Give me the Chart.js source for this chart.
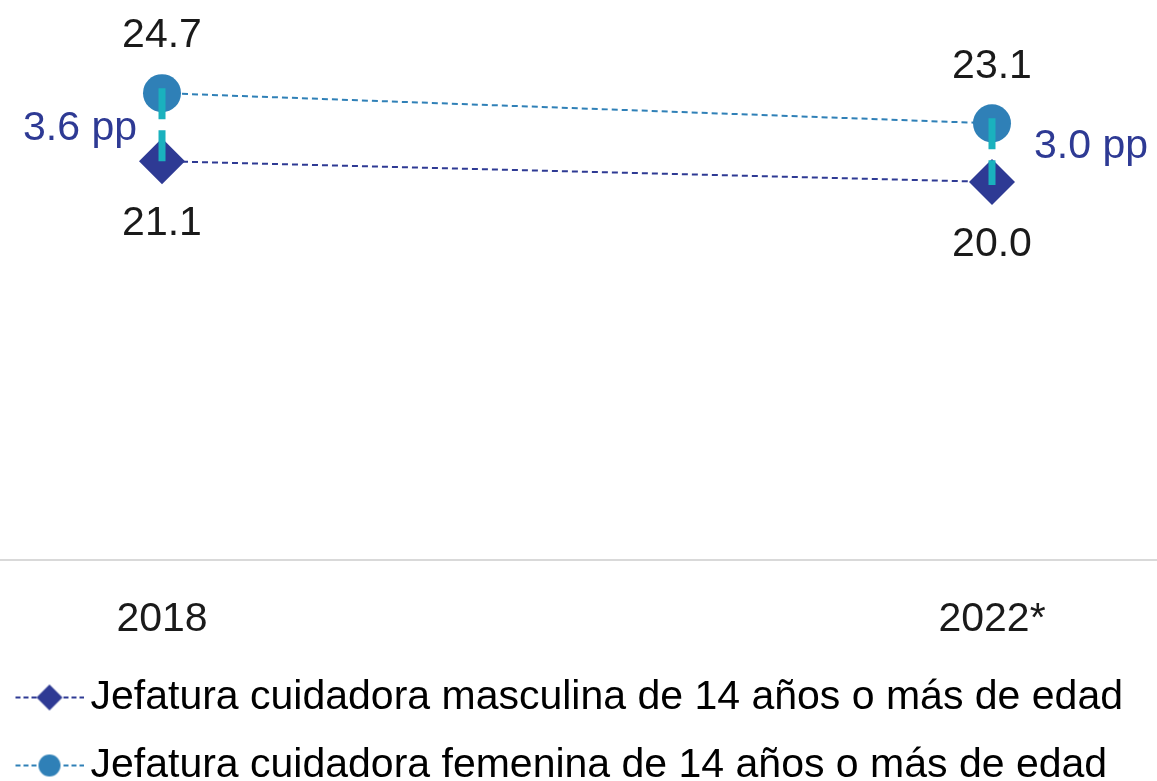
<html>
<head>
    <title>Jefatura cuidadora</title>
    <script src="https://cdn.jsdelivr.net/npm/chart.js"></script>
    <style>
        body { margin: 0; background: #fff; }
    </style>
</head>
<body>
    <div>
        <canvas id="myChart" width="1157" height="781"></canvas>
    </div>

    <script>
        // categories and values
        const categorias = ['2018', '2022*'];
        const masculina = [21.1, 20.0];
        const femenina = [24.7, 23.1];
        // published gap in percentage points (not a plain difference of the rounded values)
        const brecha = [3.6, 3.0];

        const colMasc = '#2e3a94';
        const colFem = '#2f80b7';
        const colBrecha = '#1ab1be';
        const FONT = 'Liberation Sans, Arial, sans-serif';

        // little legend marker: dashed line with the point in the middle
        function legendMarker(color, shape) {
            const c = document.createElement('canvas');
            c.width = 70;
            c.height = 30;
            const g = c.getContext('2d');
            g.strokeStyle = color;
            g.lineWidth = 2;
            g.setLineDash([5, 3]);
            g.beginPath();
            g.moveTo(2, 15);
            g.lineTo(70, 15);
            g.stroke();
            g.fillStyle = color;
            g.beginPath();
            if (shape === 'diamond') {
                g.moveTo(36, 2);
                g.lineTo(49, 15);
                g.lineTo(36, 28);
                g.lineTo(23, 15);
                g.closePath();
            } else {
                g.arc(36, 15, 11, 0, Math.PI * 2);
            }
            g.fill();
            return c;
        }
        const markers = [legendMarker(colMasc, 'diamond'), legendMarker(colFem, 'circle')];

        const valueLabels = {
            id: 'valueLabels',
            afterDatasetsDraw(chart) {
                const ctx = chart.ctx;
                ctx.save();
                ctx.font = '41px ' + FONT;
                ctx.fillStyle = '#1a1a1a';
                ctx.textAlign = 'center';
                ctx.textBaseline = 'middle';
                chart.data.datasets.forEach((ds, di) => {
                    const meta = chart.getDatasetMeta(di);
                    meta.data.forEach((pt, i) => {
                        const off = di === 1 ? -57 : 63;
                        ctx.fillText(ds.data[i].y.toFixed(1), pt.x, pt.y + off);
                    });
                });
                ctx.restore();
            }
        };

        const gapMarks = {
            id: 'gapMarks',
            afterDatasetsDraw(chart) {
                const ctx = chart.ctx;
                const x = chart.scales.x;
                const y = chart.scales.y;
                ctx.save();
                brecha.forEach((b, i) => {
                    const px = x.getPixelForValue(i);
                    const yTop = y.getPixelForValue(femenina[i]) - 5;
                    const yBot = y.getPixelForValue(masculina[i]) + 3;
                    ctx.strokeStyle = colBrecha;
                    ctx.lineWidth = 7;
                    ctx.setLineDash([31, 11]);
                    ctx.beginPath();
                    ctx.moveTo(px, yTop);
                    ctx.lineTo(px, yBot);
                    ctx.stroke();

                    ctx.font = '41px ' + FONT;
                    ctx.fillStyle = colMasc;
                    ctx.textBaseline = 'middle';
                    const mid = (yTop + yBot) / 2;
                    if (i === 0) {
                        ctx.textAlign = 'right';
                        ctx.fillText(b.toFixed(1) + ' pp', px - 25, mid + 3);
                    } else {
                        ctx.textAlign = 'left';
                        ctx.fillText(b.toFixed(1) + ' pp', px + 42, mid - 5);
                    }
                });
                ctx.restore();
            }
        };

        const data = {
            datasets: [
                {
                    label: 'Jefatura cuidadora masculina de 14 años o más de edad',
                    data: masculina.map((v, i) => ({ x: i, y: v })),
                    borderColor: colMasc,
                    backgroundColor: colMasc,
                    borderWidth: 2,
                    borderDash: [6, 4],
                    pointStyle: 'rectRot',
                    pointRadius: 23,
                    pointBorderWidth: 0,
                    clip: false
                },
                {
                    label: 'Jefatura cuidadora femenina de 14 años o más de edad',
                    data: femenina.map((v, i) => ({ x: i, y: v })),
                    borderColor: colFem,
                    backgroundColor: colFem,
                    borderWidth: 2,
                    borderDash: [6, 4],
                    pointStyle: 'circle',
                    pointRadius: 19,
                    pointBorderWidth: 0,
                    clip: false
                }
            ]
        };

        const config = {
            type: 'line',
            data: data,
            plugins: [gapMarks, valueLabels],
            options: {
                responsive: false,
                animation: false,
                layout: {
                    autoPadding: false,
                    padding: { top: 0, left: 0, right: 0, bottom: -15 }
                },
                scales: {
                    x: {
                        type: 'linear',
                        min: -0.1952,
                        max: 1.1988,
                        afterBuildTicks: (scale) => {
                            scale.ticks = categorias.map((c, i) => ({ value: i }));
                        },
                        afterFit: (scale) => {
                            scale.height -= 29;
                        },
                        grid: { display: false, drawTicks: false },
                        border: { display: true, color: '#d9d9d9', width: 2 },
                        ticks: {
                            padding: 35,
                            color: '#1a1a1a',
                            font: { family: FONT, size: 41 },
                            maxRotation: 0,
                            callback: (v) => categorias[v]
                        }
                    },
                    y: {
                        display: false,
                        min: 0,
                        max: 29.63
                    }
                },
                plugins: {
                    legend: {
                        position: 'bottom',
                        align: 'start',
                        labels: {
                            usePointStyle: true,
                            pointStyleWidth: 43,
                            padding: 27,
                            color: '#1a1a1a',
                            font: { family: FONT, size: 41 },
                            generateLabels: (chart) => chart.data.datasets.map((ds, i) => ({
                                text: ds.label,
                                pointStyle: markers[i],
                                fillStyle: ds.backgroundColor,
                                strokeStyle: ds.borderColor,
                                lineWidth: 0,
                                datasetIndex: i
                            }))
                        }
                    },
                    tooltip: { enabled: false }
                }
            }
        };
    </script>

    <script>
        const myChart = new Chart(
            document.getElementById('myChart'),
            config
        );
    </script>
</body>
</html>
